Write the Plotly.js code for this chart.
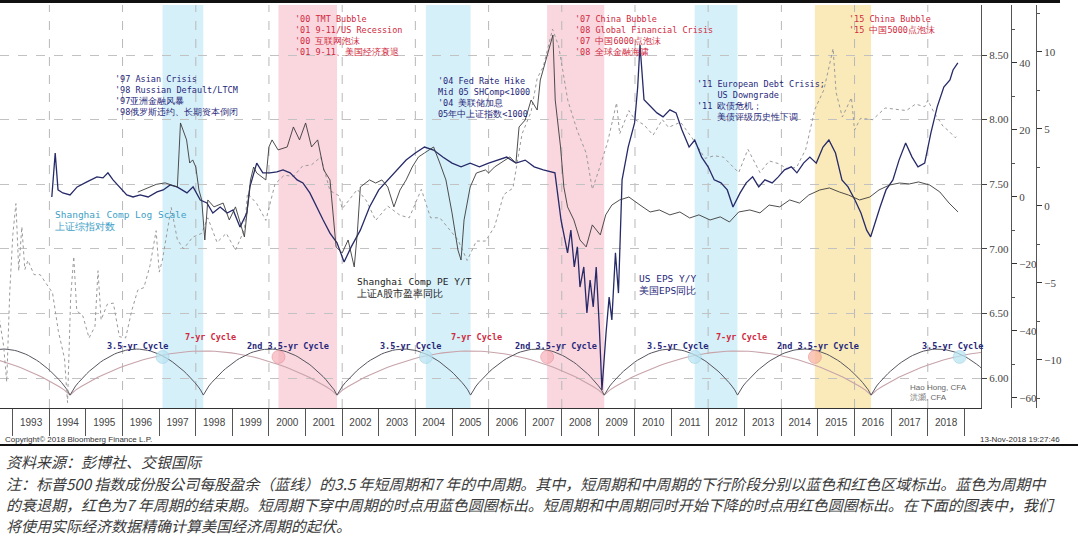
<!DOCTYPE html>
<html>
<head>
<meta charset="utf-8">
<script src="https://cdn.plot.ly/plotly-3.0.1.min.js"></script>
<style>
  html, body { margin: 0; padding: 0; background: #fff; }
  #plot { width: 1080px; height: 552px; }
</style>
</head>
<body>
<div id="plot"></div>
<script>
// Shanghai Comp, log scale (left-most right axis)
var shDates = ['1992-08','1992-10','1992-11','1992-12','1993-01','1993-02','1993-03','1993-04','1993-05','1993-06','1993-08','1993-10','1993-12',
  '1994-02','1994-04','1994-06','1994-07','1994-08','1994-09','1994-10','1994-12','1995-02','1995-04','1995-05','1995-06','1995-08','1995-10','1995-12',
  '1996-02','1996-04','1996-06','1996-08','1996-10','1996-12','1997-01','1997-02','1997-05','1997-07','1997-09','1997-12','1998-03','1998-05','1998-08','1998-11',
  '1999-02','1999-05','1999-06','1999-09','1999-12','2000-03','2000-06','2000-09','2000-12','2001-03','2001-06','2001-09','2001-12','2002-01','2002-06','2002-09','2002-12',
  '2003-04','2003-08','2003-11','2004-03','2004-06','2004-09','2004-12','2005-03','2005-06','2005-09','2005-12','2006-03','2006-06','2006-09','2006-12',
  '2007-03','2007-05','2007-07','2007-10','2007-12','2008-03','2008-06','2008-09','2008-11','2009-01','2009-04','2009-07','2009-08','2009-11',
  '2010-01','2010-04','2010-07','2010-10','2010-12','2011-04','2011-08','2011-12','2012-03','2012-06','2012-09','2012-11','2013-02','2013-06','2013-09','2013-12',
  '2014-03','2014-06','2014-09','2014-12','2015-03','2015-06','2015-07','2015-09','2015-12','2016-01','2016-03','2016-07','2016-11',
  '2017-03','2017-06','2017-09','2017-12','2018-01','2018-03','2018-06','2018-08','2018-10','2018-11'];
var shLog = [6.55,6.25,5.97,6.66,7.11,7.35,6.83,7.17,6.84,6.91,6.80,6.80,6.73,
  6.66,6.36,6.15,5.81,6.62,6.94,6.52,6.48,6.31,6.40,6.83,6.45,6.57,6.58,6.32,
  6.31,6.52,6.68,6.70,6.87,7.14,6.82,6.91,7.32,7.07,7.00,7.09,7.12,7.24,7.05,7.12,
  6.99,7.15,7.43,7.35,7.22,7.50,7.57,7.56,7.64,7.65,7.71,7.45,7.41,7.31,7.46,7.37,7.22,
  7.33,7.26,7.24,7.46,7.24,7.24,7.15,7.07,6.91,7.06,7.06,7.17,7.42,7.47,7.89,
  8.06,8.32,8.41,8.70,8.57,8.15,7.92,7.74,7.46,7.60,7.82,8.13,7.89,8.07,
  8.00,7.96,7.88,8.00,7.94,7.98,7.85,7.70,7.72,7.71,7.64,7.59,7.77,7.59,7.68,7.66,
  7.62,7.63,7.77,8.08,8.23,8.55,8.21,8.02,8.17,7.92,8.01,8.00,8.09,
  8.08,8.07,8.12,8.10,8.15,8.06,7.95,7.91,7.86,7.88];

// Shanghai Comp PE Y/Y (outer right axis)
var peDates = ['1996-06','1996-12','1997-03','1997-07','1997-08','1997-10','1997-11','1997-12','1998-01','1998-02','1998-03','1998-04','1998-05','1998-07','1998-10','1998-12',
  '1999-02','1999-05','1999-07','1999-08','1999-09','1999-12','2000-01','2000-02','2000-04','2000-07','2000-09','2000-11','2001-01','2001-03','2001-05','2001-07','2001-09','2001-11',
  '2002-01','2002-03','2002-05','2002-06','2002-07','2002-10','2002-12','2003-02','2003-04','2003-06','2003-08','2003-10','2003-12',
  '2004-02','2004-04','2004-07','2004-09','2004-11','2005-01','2005-03','2005-04','2005-05','2005-07','2005-09','2005-12',
  '2006-01','2006-03','2006-05','2006-08','2006-10','2006-11','2007-01','2007-03','2007-05','2007-06','2007-10-05','2007-10-28','2007-12-20',
  '2008-01-22','2008-02-28','2008-05','2008-07','2008-09','2008-11','2009-01-20','2009-03-15','2009-05-15','2009-08','2009-11',
  '2010-02-20','2010-06','2010-09','2010-12-15','2011-03-25','2011-07','2011-10','2012-01-20','2012-05','2012-08','2012-11',
  '2013-02-20','2013-06','2013-09','2013-12-15','2014-03-25','2014-07','2014-10','2015-01-20','2015-04-25','2015-08','2015-11',
  '2016-02-20','2016-06','2016-09','2016-12-15','2017-03-25','2017-07','2017-10','2018-01-20','2018-05','2018-08','2018-10-30'];
var peYoY = [0.9,1.4,1.5,1.23,5.39,4.29,2.79,2.99,2.53,1.04,0.39,-2.21,0.39,-0.06,0.19,-0.91,
  -0.06,-2.01,1.69,2.53,2.14,1.69,3.83,4.29,3.64,3.83,5.13,4.29,5.39,3.83,4.29,2.34,1.69,-2.66,
  -3.05,-2.21,-3.96,-1.75,1.23,1.69,1.49,1.69,1.23,-0.06,1.04,1.69,2.53,
  3.18,3.44,3.83,2.79,1.69,-0.45,-2.86,-3.51,-0.91,1.23,2.14,2.34,
  2.14,2.53,2.79,3.18,2.79,5.13,5.58,6.88,6.23,8.18,11.1,6.88,3.83,
  1.23,-0.06,-0.91,-2.21,-2.66,-1.23,-1.88,-0.58,0.06,0.39,0.58,
  0.06,-0.39,-0.26,-0.58,-0.39,-0.78,-0.58,-0.91,-0.71,-1.04,-0.39,
  -0.26,-0.45,0.06,-0.06,0.39,0.19,0.71,1.04,1.17,0.91,0.71,
  0.39,0.58,1.04,1.36,1.49,1.43,1.56,1.36,0.91,0.19,-0.39];

// US EPS Y/Y (middle right axis)
var epsDates = ['1994-01-25','1994-02-28','1994-03-28','1994-05-15','1994-07-26','1994-10-05','1995-01-10','1995-04-20','1995-06-20','1995-08-08','1995-09-28','1995-12-05',
  '1996-02-12','1996-04-15','1996-06-25','1996-09-12','1996-12-10','1997-02-10','1997-04-20','1997-06-28','1997-10-05','1997-12-05',
  '1998-02-15','1998-04-22','1998-06-20','1998-09-01','1998-11-10','1999-01-08','1999-03-18','1999-05-25','1999-06-25','1999-09-01','1999-11-01',
  '2000-01-10','2000-03-20','2000-05-20','2000-07-30','2000-10-08','2000-12-05','2001-02-12','2001-04-20','2001-06-25','2001-09-01','2001-11-10',
  '2002-01-20','2002-04-01','2002-07-01','2002-10-01','2003-01-01','2003-04-01','2003-07-01','2003-10-01','2004-01-01','2004-04-01','2004-07-01','2004-10-01',
  '2005-01-01','2005-04-01','2005-07-01','2005-10-01','2006-01-01','2006-04-01','2006-07-01','2006-10-01','2007-01-01','2007-04-01','2007-07-01','2007-10-25',
  '2007-12-25','2008-02-28','2008-04-01','2008-05-05','2008-06-05','2008-07-01','2008-08-08','2008-09-08','2008-10-10','2008-11-10','2008-12-10','2009-01-10','2009-02-05',
  '2009-03-18','2009-04-18','2009-05-15','2009-06-20','2009-07-20','2009-08-25','2009-10-25','2009-12-28','2010-01-28','2010-02-20','2010-04-01','2010-06-05','2010-08-08',
  '2010-10-08','2010-12-15','2011-02-15','2011-04-15','2011-06-25','2011-08-20','2011-10-28','2012-01-01','2012-03-01','2012-05-08','2012-07-10','2012-09-05',
  '2012-11-15','2013-01-15','2013-03-20','2013-05-20','2013-07-20','2013-10-01','2013-12-01','2014-02-01','2014-04-10','2014-06-05','2014-08-10','2014-10-12',
  '2014-12-15','2015-02-20','2015-04-20','2015-06-25','2015-08-28','2015-10-28','2016-01-05','2016-03-05','2016-05-01','2016-06-10','2016-09-12','2016-11-10',
  '2017-01-18','2017-03-20','2017-05-25','2017-07-28','2017-09-25','2017-12-01','2018-02-01','2018-04-05','2018-06-10','2018-08-10','2018-09-10','2018-10-28'];
var epsYoY = [0,13.1,2.1,1.2,0.6,3.0,4.5,6.0,5.7,7.2,5.1,3.0,
  0.6,0,0.6,0,1.5,2.1,3.6,3.0,1.2,3.0,
  -0.9,-1.8,-4.8,-3.0,-4.8,-3.9,-9.0,-4.8,3.0,10.1,7.2,
  7.2,7.5,8.1,7.2,5.1,4.2,1.2,-3.0,-6.9,-10.8,-13.7,
  -19.4,-14.9,-9.9,-3.0,2.1,5.1,8.1,11.0,13.1,14.9,14.0,11.9,
  10.1,9.0,10.1,9.0,10.1,11.0,11.9,10.1,11.0,9.0,8.1,7.2,
  -6.9,-16.7,-9.9,-20.9,-14.9,-26.9,-20.9,-34.6,-24.8,-32.8,-20.9,-38.8,-57.6,
  -40.6,-29.9,-36.7,-16.7,-28.7,5.1,14.9,22.1,32.8,45.4,29.0,26.9,25.1,
  23.9,26.0,25.1,20.0,14.9,17.0,11.9,9.0,5.1,4.2,2.1,-3.0,
  1.2,4.2,6.0,3.0,5.1,4.2,6.0,8.1,9.0,7.2,10.1,11.9,
  10.1,14.9,17.0,13.1,5.1,3.0,-0.9,-4.8,-9.9,-11.9,-3.0,2.1,
  5.1,11.0,16.1,11.9,9.0,10.1,19.1,26.9,32.8,34.9,37.9,40.0];

// down-phase bands of the cycles
var bandStart = ['1997-02-03','2000-04-05','2004-04-15','2007-08-08','2011-08-20','2014-12-01'];
var bandEnd   = ['1998-03-17','2001-11-10','2005-07-05','2009-02-28','2012-10-20','2016-06-14'];
var bandKind  = ['blue','red','blue','red','blue','yellow'];

// cycle troughs
var troughs35 = ['1990-12-01','1994-07-26','1998-03-17','2001-11-10','2005-07-05','2009-02-28','2012-10-20','2016-06-14','2020-02-05'];
var troughs7  = ['1987-05-01','1994-07-26','2001-11-10','2009-02-28','2016-06-14','2023-09-30'];

// circles where cycles turn
var circleDates = ['1997-02-03','2000-04-05','2004-04-15','2007-08-08','2011-08-20','2014-12-01','2018-11-15'];
var circleKind  = ['blue','red','blue','red','blue','orange','blue'];

// cycle labels
var cycleText  = ['3.5-yr Cycle','7-yr Cycle','2nd 3.5-yr Cycle','3.5-yr Cycle','7-yr Cycle','2nd 3.5-yr Cycle','3.5-yr Cycle','7-yr Cycle','2nd 3.5-yr Cycle','3.5-yr Cycle'];
var cycleDates = ['1996-06-01','1998-05-25','2000-07-10','2003-11-15','2005-08-30','2007-11-05','2011-03-05','2012-11-25','2015-01-01','2018-09-01'];

var gridYears = ['1994','1996','1998','2000','2002','2004','2006','2008','2010','2012','2014','2016','2018'];

// page geometry helpers (pixels -> paper)
var PAPER_W = 1036, TOP = 5, BOT = 408;
function px(X) { return X / PAPER_W; }
function py(Y) { return (BOT - Y) / (BOT - TOP); }

var ARC_BASE = 5.868, H35 = 0.356, H7 = 0.341;
function arc(t0, t1, h) {
  var a = Date.parse(t0), b = Date.parse(t1), xs = [], ys = [];
  for (var i = 0; i <= 48; i++) {
    var f = i / 48;
    xs.push(new Date(a + (b - a) * f).toISOString().slice(0, 10));
    ys.push(ARC_BASE + h * Math.pow(Math.sin(Math.PI * f), 0.8));
  }
  return {x: xs, y: ys};
}

var data = [];
for (var i = 0; i < troughs7.length - 1; i++) {
  var a7 = arc(troughs7[i], troughs7[i + 1], H7);
  data.push({x: a7.x, y: a7.y, mode: 'lines', line: {color: '#c7a3aa', width: 1.1}, hoverinfo: 'skip'});
}
for (var i = 0; i < troughs35.length - 1; i++) {
  var a35 = arc(troughs35[i], troughs35[i + 1], H35);
  data.push({x: a35.x, y: a35.y, mode: 'lines', line: {color: '#55555f', width: 1}, hoverinfo: 'skip'});
}
var circleColor = {blue: 'rgba(185,228,242,0.75)', red: 'rgba(244,170,180,0.65)', orange: 'rgba(246,176,156,0.7)'};
data.push({
  x: circleDates, y: circleDates.map(function () { return 6.163; }),
  mode: 'markers', hoverinfo: 'skip',
  marker: {size: 13, color: circleKind.map(function (k) { return circleColor[k]; }),
           line: {width: 0.6, color: circleKind.map(function (k) { return k == 'blue' ? 'rgba(150,205,228,0.8)' : 'rgba(225,130,140,0.8)'; })}}
});

data.push({x: shDates, y: shLog, mode: 'lines', line: {color: '#9a9a9a', width: 1, dash: 'dot'}, yaxis: 'y', hoverinfo: 'skip'});
data.push({x: peDates, y: peYoY, mode: 'lines', line: {color: '#3a3a3a', width: 0.9}, yaxis: 'y3', hoverinfo: 'skip'});
data.push({x: epsDates, y: epsYoY, mode: 'lines', line: {color: '#262a68', width: 1.3}, yaxis: 'y2', hoverinfo: 'skip'});

var bandColor = {blue: 'rgba(204,236,247,0.8)', red: 'rgba(249,204,215,0.8)', yellow: 'rgba(249,229,168,0.8)'};
var shapes = [];
for (var i = 0; i < bandStart.length; i++) {
  shapes.push({type: 'rect', xref: 'x', yref: 'paper', x0: bandStart[i], x1: bandEnd[i], y0: 0, y1: 1,
               fillcolor: bandColor[bandKind[i]], line: {width: 0}, layer: 'below'});
}
gridYears.forEach(function (g) {
  shapes.push({type: 'line', xref: 'x', yref: 'paper', x0: g + '-01-01', x1: g + '-01-01', y0: 0, y1: 1,
               line: {color: '#b8b8b8', width: 1, dash: 'dash'}, layer: 'below'});
});
// top bar and footer rule
shapes.push({type: 'rect', xref: 'paper', yref: 'paper', x0: 0, x1: px(1060), y0: py(3), y1: py(0), fillcolor: '#111', line: {width: 0}});
shapes.push({type: 'line', xref: 'paper', yref: 'paper', x0: 0, x1: px(1078), y0: py(445), y1: py(445), line: {color: '#111', width: 2}});

var mono = 'DejaVu Sans Mono';
var navy = '#27287a', red = '#d02a3e';
var cjk = {family: 'Noto Sans CJK SC', size: 15, color: '#3a3a3a', style: 'italic'};
function note(X, Y, text, color, size, family, extra) {
  var a = {xref: 'paper', yref: 'paper', x: px(X), y: py(Y), xanchor: 'left', yanchor: 'top', align: 'left',
           showarrow: false, text: text, font: {family: family || mono, size: size || 8.5, color: color}};
  for (var k in extra || {}) a[k] = extra[k];
  return a;
}
var annotations = [
  note(113, 72, "'97 Asian Crisis<br>'98 Russian Default/LTCM<br>'97亚洲金融风暴<br>'98俄罗斯违约、长期资本倒闭", navy),
  note(293, 12, "'00 TMT Bubble<br>'01 9-11/US Recession<br>'00 互联网泡沫<br>'01 9-11、美国经济衰退", red),
  note(436, 74, "'04 Fed Rate Hike<br>Mid 05 SHComp<1000<br>'04 美联储加息<br>05年中上证指数<1000", navy),
  note(573, 12, "'07 China Bubble<br>'08 Global Financial Crisis<br>'07 中国6000点泡沫<br>'08 全球金融海啸", red),
  note(695, 77, "'11 European Debt Crisis;<br>    US Downgrade<br>'11 欧债危机；<br>    美债评级历史性下调", navy),
  note(847, 12, "'15 China Bubble<br>'15 中国5000点泡沫", red),
  note(53, 207, 'Shanghai Comp Log Scale<br>上证综指对数', '#3f9fc6', 9.5),
  note(355, 274, 'Shanghai Comp PE Y/T<br>上证A股市盈率同比', '#222', 9.5),
  note(637, 271, 'US EPS Y/Y<br>美国EPS同比', navy, 9.5),
  note(908, 381, 'Hao Hong, CFA<br>洪灝, CFA', '#666', 8, 'Liberation Sans'),
  note(3, 433, 'Copyright© 2018 Bloomberg Finance L.P.', '#333', 8, 'Liberation Sans'),
  note(1062, 433, '13-Nov-2018 19:27:46', '#333', 8, 'Liberation Sans', {xanchor: 'right'}),
  note(4, 449, '资料来源：彭博社、交银国际', '#333', 15, 'Noto Sans CJK SC', {font: cjk}),
  note(4, 471, '注：标普500 指数成份股公司每股盈余（蓝线）的3.5 年短周期和7 年的中周期。其中，短周期和中周期的下行阶段分别以蓝色和红色区域标出。蓝色为周期中', '#333', 15, 'Noto Sans CJK SC', {font: cjk}),
  note(4, 492, '的衰退期，红色为7 年周期的结束期。短周期下穿中周期的时点用蓝色圆圈标出。短周期和中周期同时开始下降的时点用红色圆圈标出。在下面的图表中，我们', '#333', 15, 'Noto Sans CJK SC', {font: cjk}),
  note(4, 513, '将使用实际经济数据精确计算美国经济周期的起伏。', '#333', 15, 'Noto Sans CJK SC', {font: cjk})
];
cycleText.forEach(function (t, i) {
  var is7 = t.indexOf('7-yr') === 0;
  annotations.push({xref: 'x', yref: 'paper', x: cycleDates[i], y: py(is7 ? 337 : 346), xanchor: 'center', yanchor: 'middle',
    showarrow: false, text: '<b>' + t + '</b>', font: {family: mono, size: 8.5, color: is7 ? red : navy}});
});

var tickFont = {family: 'Liberation Serif', size: 11, color: '#444'};
var layout = {
  width: 1080, height: 552,
  margin: {l: 0, r: 44, t: TOP, b: 552 - BOT},
  paper_bgcolor: '#fff', plot_bgcolor: '#fff',
  showlegend: false,
  xaxis: {
    type: 'date', domain: [0, px(981)], range: ['1992-08-26', '2019-06-16'],
    tick0: '1993-01-01', dtick: 'M12', tickformat: '%Y', ticklabelmode: 'period',
    ticks: 'outside', ticklen: 27, tickcolor: '#555', tickwidth: 1, ticklabelstandoff: -22,
    showgrid: false, zeroline: false, showline: true, linecolor: '#333', linewidth: 1,
    tickfont: {family: 'Liberation Sans', size: 10, color: '#444'}
  },
  yaxis: {
    side: 'right', range: [5.768, 8.887], tickvals: [6, 6.5, 7, 7.5, 8, 8.5],
    ticktext: ['6.00', '6.50', '7.00', '7.50', '8.00', '8.50'],
    ticks: 'outside', ticklen: 5, tickcolor: '#444', showline: true, linecolor: '#555',
    showgrid: true, gridcolor: '#c2c2c2', griddash: 'dash', zeroline: false, tickfont: tickFont
  },
  yaxis2: {
    overlaying: 'y', side: 'right', anchor: 'free', position: px(1011), range: [-63, 57.3],
    tickvals: [-60, -40, -20, 0, 20, 40], ticks: 'outside', ticklen: 5, tickcolor: '#333',
    minor: {dtick: 10, ticks: 'outside', ticklen: 3, tickcolor: '#555'},
    showline: true, linecolor: '#555', showgrid: false, zeroline: false, tickfont: tickFont
  },
  yaxis3: {
    overlaying: 'y', side: 'right', anchor: 'free', position: 1, range: [-13.12, 13.05],
    tickvals: [-10, -5, 0, 5, 10], ticks: 'outside', ticklen: 5, tickcolor: '#333',
    minor: {dtick: 2.5, ticks: 'outside', ticklen: 3, tickcolor: '#555'},
    showline: true, linecolor: '#555', showgrid: false, zeroline: false, tickfont: tickFont
  },
  shapes: shapes,
  annotations: annotations
};

Plotly.newPlot('plot', data, layout, {displayModeBar: false, staticPlot: true});
</script>
</body>
</html>
